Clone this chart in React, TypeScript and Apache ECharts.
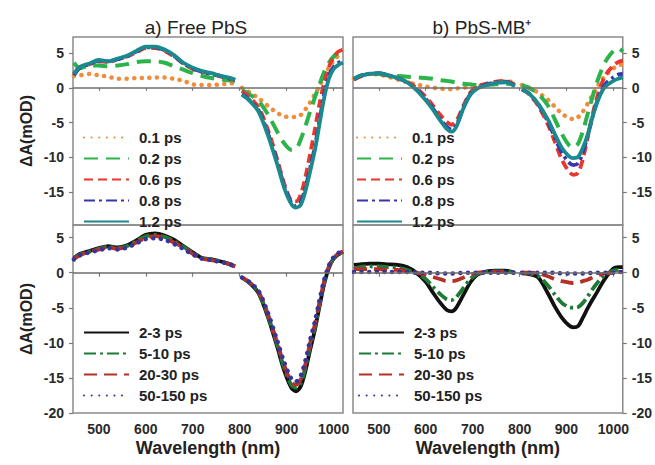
import React, { useEffect, useRef } from 'react';
import * as echarts from 'echarts';

// wavelengths (nm); the 797 entry marks the gap in the data
const WL_L = [447,460,480,500,520,540,560,580,600,620,640,660,680,700,720,740,760,775,790,797,805,820,840,860,880,895,910,920,930,940,950,960,970,980,990,1000,1010,1020];
const WL_R = [447,460,480,500,520,540,560,580,600,615,630,645,655,665,680,695,710,730,750,770,790,797,805,820,840,860,875,890,905,915,925,935,945,955,965,975,985,1000,1010,1020];

const X_TICKS = [500, 600, 700, 800, 900, 1000];
const Y_TICKS_TOP = [-15, -10, -5, 0, 5];
const Y_TICKS_BOTTOM = [-20, -15, -10, -5, 0, 5];

const NAMES_EARLY = ['0.1 ps', '0.2 ps', '0.6 ps', '0.8 ps', '1.2 ps'];
const NAMES_LATE = ['2-3 ps', '5-10 ps', '20-30 ps', '50-150 ps'];

// a) Free PbS, early times
const TL_01 = [1.7,1.8,2.0,1.8,1.6,1.3,1.3,1.4,1.4,1.5,1.5,1.3,1.0,0.5,0.4,0.4,0.5,0.6,0.7,null,0.0,-0.6,-1.5,-2.6,-3.6,-4.1,-4.2,-4.2,-3.9,-3.1,-2.1,-0.9,0.3,1.6,2.9,3.9,4.6,5.0];
const TL_02 = [3.6,2.8,3.2,3.2,3.1,3.2,3.4,3.7,3.8,3.8,3.6,3.1,2.6,2.1,1.7,1.4,1.2,1.1,1.0,null,-0.3,-0.9,-1.9,-3.8,-6.3,-8.0,-8.9,-8.8,-7.4,-5.5,-3.4,-1.4,0.5,2.3,3.6,4.5,5.0,5.1];
const TL_06 = [2.0,3.0,3.4,3.8,3.7,4.1,4.5,5.1,5.7,5.7,5.3,4.5,3.5,2.7,2.3,2.0,1.6,1.4,1.1,null,-0.5,-1.3,-2.8,-6.0,-10.3,-13.8,-16.2,-16.3,-15.3,-12.8,-9.5,-6.0,-2.3,0.8,3.0,4.4,5.2,5.5];
const TL_08 = [1.8,2.9,3.4,3.9,3.8,4.1,4.5,5.2,5.8,5.8,5.4,4.6,3.5,2.8,2.3,2.0,1.7,1.4,1.1,null,-0.9,-1.7,-3.2,-6.5,-10.7,-14.1,-16.5,-17.0,-16.4,-14.3,-11.5,-8.5,-4.7,-0.9,1.7,3.0,3.6,3.9];
const TL_12 = [2.0,3.0,3.5,4.0,3.8,4.2,4.6,5.3,5.9,5.9,5.5,4.7,3.6,2.9,2.4,2.1,1.7,1.5,1.2,null,-1.0,-1.8,-3.4,-6.8,-11.0,-14.4,-16.7,-17.2,-16.8,-14.8,-12.0,-9.0,-5.2,-1.4,1.3,2.7,3.3,3.6];

// b) PbS-MB+, early times
const TR_01 = [1.3,1.7,2.0,1.9,1.6,1.2,0.8,0.5,0.2,0.0,-0.1,-0.2,-0.2,-0.1,0.0,0.1,0.2,0.4,0.7,0.9,0.8,null,0.4,0.0,-0.7,-1.7,-2.7,-3.7,-4.3,-4.5,-4.2,-3.4,-2.3,-1.1,0.1,1.1,1.9,2.8,3.2,3.4];
const TR_02 = [1.3,1.7,2.0,2.0,1.8,1.7,1.6,1.5,1.4,1.3,1.1,1.0,0.9,0.8,0.6,0.5,0.4,0.4,0.5,0.6,0.6,null,0.4,0.0,-0.9,-2.5,-4.5,-6.6,-8.2,-8.6,-8.0,-6.2,-3.8,-1.4,0.8,2.6,4.0,5.3,5.7,5.2];
const TR_06 = [1.2,1.6,2.0,2.0,1.8,1.4,0.9,0.0,-1.3,-2.5,-3.8,-4.9,-5.3,-4.8,-2.6,-0.7,0.2,0.6,0.9,1.0,0.4,null,-0.2,-0.9,-2.6,-5.2,-7.7,-10.3,-12.0,-12.5,-12.2,-10.2,-7.2,-4.0,-1.4,0.6,2.0,3.2,3.7,3.9];
const TR_08 = [1.2,1.7,2.0,2.1,1.8,1.4,0.8,-0.2,-1.6,-2.9,-4.4,-5.6,-6.0,-5.4,-2.9,-0.9,0.0,0.5,0.8,0.9,0.3,null,-0.2,-0.8,-2.4,-4.8,-7.1,-9.3,-10.7,-11.1,-10.8,-9.2,-7.0,-4.3,-2.0,-0.3,0.7,1.5,1.9,2.0];
const TR_12 = [1.3,1.7,2.0,2.1,1.8,1.4,0.8,-0.3,-1.8,-3.1,-4.6,-5.9,-6.3,-5.6,-3.0,-1.0,-0.1,0.4,0.7,0.8,0.2,null,-0.2,-0.8,-2.3,-4.5,-6.6,-8.6,-9.8,-10.1,-9.9,-8.6,-6.8,-4.3,-2.2,-0.6,0.3,1.0,1.3,1.5];

// a) Free PbS, late times
const BL_23 = [2.1,2.7,3.1,3.5,3.8,3.6,3.9,4.6,5.4,5.6,5.3,4.7,3.8,2.9,2.1,1.9,1.6,1.3,0.9,null,-0.7,-1.4,-2.9,-6.3,-10.6,-14.0,-16.4,-16.9,-16.2,-14.0,-11.0,-8.2,-4.8,-1.6,0.7,2.0,2.6,3.0];
const BL_510 = [2.0,2.6,3.0,3.4,3.7,3.5,3.8,4.5,5.2,5.4,5.1,4.5,3.7,2.8,2.1,1.9,1.6,1.3,0.9,null,-0.7,-1.4,-2.8,-6.1,-10.3,-13.6,-16.0,-16.4,-15.7,-13.5,-10.5,-7.8,-4.5,-1.4,0.8,2.0,2.6,3.0];
const BL_2030 = [2.0,2.5,3.0,3.3,3.6,3.4,3.7,4.3,5.0,5.2,4.9,4.3,3.6,2.7,2.0,1.8,1.5,1.3,0.9,null,-0.7,-1.3,-2.7,-5.9,-10.0,-13.2,-15.6,-16.0,-15.2,-13.0,-10.0,-7.4,-4.2,-1.2,0.9,2.1,2.7,3.0];
const BL_50 = [1.9,2.5,2.9,3.2,3.5,3.3,3.6,4.2,4.8,4.9,4.7,4.1,3.4,2.6,2.0,1.8,1.5,1.3,0.9,null,-0.7,-1.3,-2.6,-5.7,-9.7,-12.8,-15.1,-15.5,-14.7,-12.5,-9.6,-7.0,-3.9,-1.0,1.0,2.2,2.8,3.1];

// b) PbS-MB+, late times
const BR_23 = [1.1,1.2,1.3,1.3,1.2,1.1,0.8,0.0,-1.3,-2.8,-4.2,-5.3,-5.5,-5.0,-3.2,-1.4,-0.3,0.2,0.3,0.3,0.0,null,-0.1,-0.2,-0.7,-2.9,-4.8,-6.4,-7.5,-7.8,-7.6,-6.4,-5.1,-3.9,-2.8,-1.6,-0.6,0.6,0.8,0.8];
const BR_510 = [0.6,0.8,0.9,0.9,0.8,0.7,0.4,-0.1,-0.9,-2.0,-3.0,-3.8,-3.9,-3.5,-2.2,-0.9,-0.2,0.1,0.2,0.2,0.0,null,0.0,-0.1,-0.5,-1.8,-3.1,-4.3,-4.9,-5.0,-4.9,-4.3,-3.4,-2.4,-1.5,-0.7,-0.2,0.3,0.4,0.4];
const BR_2030 = [0.5,0.5,0.5,0.5,0.4,0.4,0.2,0.0,-0.3,-0.6,-0.9,-1.2,-1.2,-1.1,-0.7,-0.3,0.0,0.1,0.1,0.1,0.0,null,0.0,0.0,-0.1,-0.5,-0.9,-1.2,-1.4,-1.5,-1.4,-1.2,-1.0,-0.7,-0.4,-0.2,-0.1,0.0,0.1,0.1];
const BR_50 = [0.1,0.1,0.1,0.1,0.1,0.1,0.1,0.0,0.0,0.0,-0.1,-0.1,-0.1,-0.1,0.0,0.0,0.0,0.0,0.0,0.0,0.0,null,0.0,0.0,0.0,0.0,0.0,-0.1,-0.1,-0.1,-0.1,-0.1,-0.1,0.0,0.0,0.0,0.0,0.0,0.1,0.1];

const FONT = '"Liberation Sans", Arial, Helvetica, sans-serif';

type Sty = { color: string; width: number; type: any; cap?: string };
const STY_EARLY: Sty[] = [
  { color: '#F28C3A', width: 4.5, type: [0.1, 7.5], cap: 'round' },
  { color: '#2DB34B', width: 4, type: [14, 8] },
  { color: '#E8372C', width: 3.8, type: [9, 5] },
  { color: '#3636B0', width: 3.8, type: [11, 4, 3, 4] },
  { color: '#1A8A8E', width: 3.8, type: 'solid' },
];
const STY_LATE: Sty[] = [
  { color: '#111111', width: 3.8, type: 'solid' },
  { color: '#1E7B36', width: 3.8, type: [12, 4, 3, 4] },
  { color: '#B53127', width: 3.8, type: [13, 7] },
  { color: '#35359A', width: 4.5, type: [0.1, 7.5], cap: 'round' },
];

function mkSeries(name: string, wl: number[], vals: (number | null)[], idx: number, s: Sty, zero: boolean) {
  const ser: any = {
    type: 'line',
    name,
    xAxisIndex: idx,
    yAxisIndex: idx,
    data: wl.map((w, i) => [w, vals[i] === null ? '-' : vals[i]]),
    showSymbol: false,
    symbol: 'none',
    smooth: 0.3,
    connectNulls: false,
    lineStyle: { color: s.color, width: s.width, type: s.type, cap: s.cap || 'butt' },
    itemStyle: { color: s.color },
    silent: true,
  };
  if (zero) {
    ser.markLine = {
      silent: true,
      symbol: ['none', 'none'],
      label: { show: false },
      lineStyle: { color: '#6e6e6e', width: 1.5, type: 'solid' },
      data: [{ yAxis: 0 }],
    };
  }
  return ser;
}

export default function App() {
  const ref = useRef<HTMLDivElement>(null);
  useEffect(() => {
    if (!ref.current) return;
    const chart = echarts.init(ref.current, null, { renderer: 'svg' });
    const grids = [
      { left: 73, top: 37 },
      { left: 353, top: 37 },
      { left: 73, top: 225 },
      { left: 353, top: 225 },
    ].map((g) => ({ ...g, width: 270, height: 188, show: true, borderColor: '#8a8a8a', borderWidth: 1.5, backgroundColor: 'transparent' }));

    const tickLabel = { fontFamily: FONT, fontWeight: 'bold', fontSize: 14, color: '#2a2a2a' };

    const xAxis = [0, 1, 2, 3].map((i) => ({
      gridIndex: i,
      type: 'value',
      min: 445,
      max: 1020,
      axisLine: { show: false },
      axisTick: { show: true, length: i < 2 ? 3 : 4, customValues: X_TICKS, lineStyle: { color: '#7a7a7a', width: 1.2 } },
      axisLabel: { show: i >= 2, customValues: X_TICKS, margin: 9, formatter: (v: number) => String(v), ...tickLabel },
      splitLine: { show: false },
      name: i >= 2 ? 'Wavelength (nm)' : '',
      nameLocation: 'middle',
      nameGap: 26,
      nameTextStyle: { fontFamily: FONT, fontWeight: 'bold', fontSize: 18, color: '#222' },
    }));

    const yAxis = [0, 1, 2, 3].map((i) => {
      const ticks = i < 2 ? Y_TICKS_TOP : Y_TICKS_BOTTOM;
      return {
        gridIndex: i,
        type: 'value',
        min: i < 2 ? -19.7 : -20,
        max: i < 2 ? 7.3 : 6.8,
        position: i % 2 === 0 ? 'left' : 'right',
        axisLine: { show: false },
        axisTick: { show: true, length: 4, customValues: ticks, lineStyle: { color: '#7a7a7a', width: 1.2 } },
        axisLabel: { show: true, customValues: ticks, margin: 9, ...tickLabel },
        splitLine: { show: false },
        name: i % 2 === 0 ? 'ΔA(mOD)' : '',
        nameLocation: 'middle',
        nameGap: 39,
        nameRotate: 90,
        nameTextStyle: { fontFamily: FONT, fontWeight: 'bold', fontSize: 16, color: '#222' },
      };
    });

    const early = [TL_01, TL_02, TL_06, TL_08, TL_12];
    const earlyR = [TR_01, TR_02, TR_06, TR_08, TR_12];
    const late = [BL_23, BL_510, BL_2030, BL_50];
    const lateR = [BR_23, BR_510, BR_2030, BR_50];

    const series: any[] = [];
    NAMES_EARLY.forEach((n, k) => series.push(mkSeries(n, WL_L, early[k], 0, STY_EARLY[k], k === 0)));
    NAMES_EARLY.forEach((n, k) => series.push(mkSeries(n, WL_R, earlyR[k], 1, STY_EARLY[k], k === 0)));
    NAMES_LATE.forEach((n, k) => series.push(mkSeries(n, WL_L, late[k], 2, STY_LATE[k], k === 0)));
    NAMES_LATE.forEach((n, k) => series.push(mkSeries(n, WL_R, lateR[k], 3, STY_LATE[k], k === 0)));

    const legendBase = {
      orient: 'vertical',
      itemWidth: 45,
      itemHeight: 14,
      itemGap: 6,
      selectedMode: false,
      padding: 0,
      itemStyle: { opacity: 0, borderWidth: 0 },
      textStyle: { fontFamily: FONT, fontWeight: 'bold', fontSize: 15, color: '#222', padding: [0, 0, 0, 5] },
    };

    chart.setOption({
      animation: false,
      backgroundColor: '#ffffff',
      grid: grids,
      xAxis,
      yAxis,
      legend: [
        { ...legendBase, left: 83, top: 130, data: NAMES_EARLY },
        { ...legendBase, left: 356, top: 130, data: NAMES_EARLY },
        { ...legendBase, left: 83, top: 325, data: NAMES_LATE },
        { ...legendBase, left: 358, top: 325, data: NAMES_LATE },
      ],
      graphic: [
        { type: 'text', x: 196, y: 27, style: { text: 'a) Free PbS', font: `19px ${FONT}`, fill: '#222', align: 'center', verticalAlign: 'middle' } },
        { type: 'text', x: 482, y: 27, style: { text: 'b) PbS-MB⁺', font: `19px ${FONT}`, fill: '#222', align: 'center', verticalAlign: 'middle' } },
      ],
      series,
    });
    return () => chart.dispose();
  }, []);
  return <div ref={ref} style={{ position: 'absolute', left: 0, top: 0, width: 655, height: 465, background: '#fff' }} />;
}
